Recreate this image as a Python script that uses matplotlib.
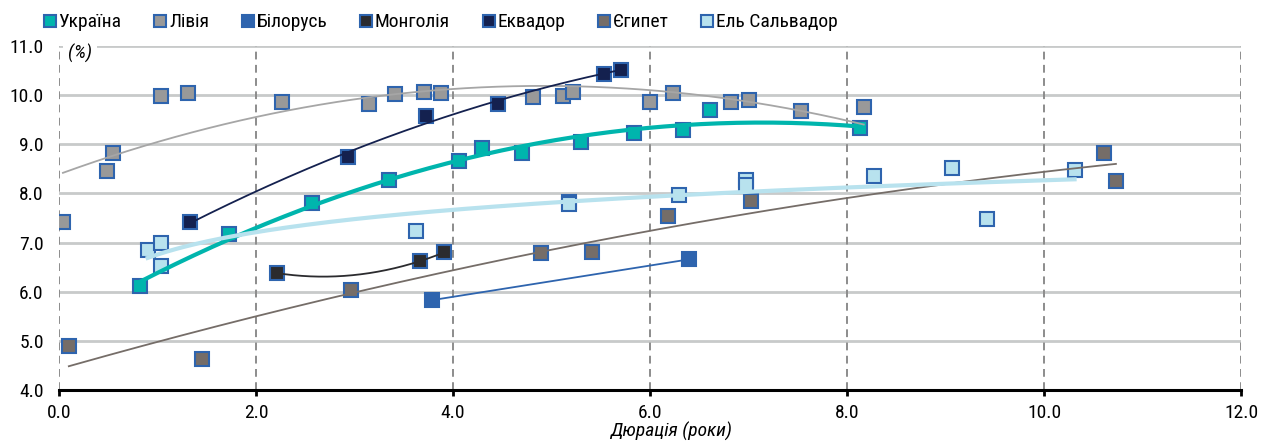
import matplotlib
matplotlib.use('Agg')
import matplotlib.pyplot as plt
import numpy as np

plt.rcParams['font.family'] = ['Roboto Condensed', 'DejaVu Sans']

# Data: duration (years) vs yield (%)
ukraine_x = [0.82, 1.73, 2.57, 3.35, 4.06, 4.29, 4.70, 5.30, 5.84, 6.34, 6.61, 8.13]
ukraine_y = [6.11, 7.17, 7.80, 8.27, 8.67, 8.92, 8.82, 9.04, 9.24, 9.30, 9.69, 9.33]

libya_x = [0.04, 0.49, 0.55, 1.04, 1.31, 2.26, 3.15, 3.41, 3.71, 3.88, 4.81, 5.12, 5.22,
           6.00, 6.23, 6.82, 7.00, 7.53, 8.17]
libya_y = [7.41, 8.45, 8.82, 9.98, 10.04, 9.87, 9.83, 10.02, 10.06, 10.04, 9.96, 9.98, 10.06,
           9.87, 10.04, 9.87, 9.91, 9.67, 9.75]

belarus_x = [3.79, 6.40]
belarus_y = [5.83, 6.66]

mongolia_x = [2.21, 3.66, 3.91]
mongolia_y = [6.38, 6.62, 6.80]

ecuador_x = [1.33, 2.93, 3.73, 4.46, 5.53, 5.71]
ecuador_y = [7.41, 8.74, 9.57, 9.83, 10.44, 10.52]

egypt_x = [0.10, 1.45, 2.96, 4.89, 5.41, 6.18, 7.03, 10.61, 10.73]
egypt_y = [4.89, 4.63, 6.03, 6.78, 6.80, 7.54, 7.84, 8.82, 8.25]

salvador_x = [0.90, 1.04, 1.04, 3.62, 5.18, 5.18, 6.29, 6.97, 6.97, 8.27, 9.07, 9.42, 10.31]
salvador_y = [6.85, 6.99, 6.52, 7.23, 7.83, 7.78, 7.96, 8.28, 8.17, 8.35, 8.51, 7.48, 8.47]

edge = '#2E64AE'
series = [
    ('Україна', ukraine_x, ukraine_y, '#00B5AD', '#00B5AD', 3.0, 2),
    ('Лівія', libya_x, libya_y, '#999999', '#A6A6A6', 1.3, 2),
    ('Білорусь', belarus_x, belarus_y, '#2E64AE', '#2E64AE', 1.3, 1),
    ('Монголія', mongolia_x, mongolia_y, '#2B2B2E', '#2B2B2E', 1.3, 2),
    ('Еквадор', ecuador_x, ecuador_y, '#14214F', '#14214F', 1.3, 2),
    ('Єгипет', egypt_x, egypt_y, '#756D68', '#756D68', 1.3, 2),
    ('Ель Сальвадор', salvador_x, salvador_y, '#B8E2EE', '#B8E2EE', 3.0, 'log'),
]

fig = plt.figure(figsize=(12.63, 4.41), dpi=100)
ax = fig.add_axes([0.0467, 0.1156, 0.9359, 0.780])

for name, xs, ys, face, lcol, lw, deg in series:
    xs = np.array(xs)
    ys = np.array(ys)
    ax.plot(xs, ys, linestyle='none', marker='s', markersize=10.7,
            markerfacecolor=face, markeredgecolor=edge, markeredgewidth=1.5,
            label=name, zorder=3)
    # trendline fitted to the points
    xt = np.linspace(xs.min(), xs.max(), 200)
    if deg == 'log':
        c = np.polyfit(np.log(xs), ys, 1)
        yt = np.polyval(c, np.log(xt))
    else:
        c = np.polyfit(xs, ys, deg)
        yt = np.polyval(c, xt)
    ax.plot(xt, yt, color=lcol, linewidth=lw, zorder=4)

xticks = np.arange(0, 12.1, 2)
yticks = np.arange(4, 11.1, 1)
ax.set_xlim(0, 12)
ax.set_ylim(4, 11)
ax.set_xticks(xticks)
ax.set_xticklabels([f'{v:.1f}' for v in xticks])
ax.set_yticks(yticks)
ax.set_yticklabels([f'{v:.1f}' for v in yticks])

ax.grid(True, axis='y', color='#C8CACA', linewidth=2, linestyle='-', zorder=0)
for xv in xticks:
    ax.axvline(xv, color='#8C8C8C', linewidth=1.4, linestyle=(0, (4, 2.8)), zorder=1)
ax.set_axisbelow(True)

for s in ['top', 'right', 'left']:
    ax.spines[s].set_visible(False)
ax.spines['bottom'].set_linewidth(2.2)
ax.spines['bottom'].set_color('black')
ax.spines['bottom'].set_zorder(5)
ax.tick_params(axis='x', direction='out', length=4, width=2, colors='black',
               labelsize=14, pad=6)
ax.tick_params(axis='y', length=0, labelsize=14, pad=11)

ax.text(0.09, 10.84, '(%)', fontsize=14, style='italic', ha='left', va='center',
        bbox=dict(facecolor='white', edgecolor='none', pad=3.5), zorder=6)
ax.set_xlabel('Дюрація (роки)', fontsize=14, style='italic')
ax.xaxis.set_label_coords(0.518, -0.093)

fig.legend(loc='center left', bbox_to_anchor=(0.0345, 0.949), ncol=7, frameon=False,
           fontsize=14, markerscale=0.78, handlelength=0.65, handletextpad=0.12,
           columnspacing=1.67, borderpad=0, borderaxespad=0)

plt.savefig('out.png', dpi=100)
plt.close()
